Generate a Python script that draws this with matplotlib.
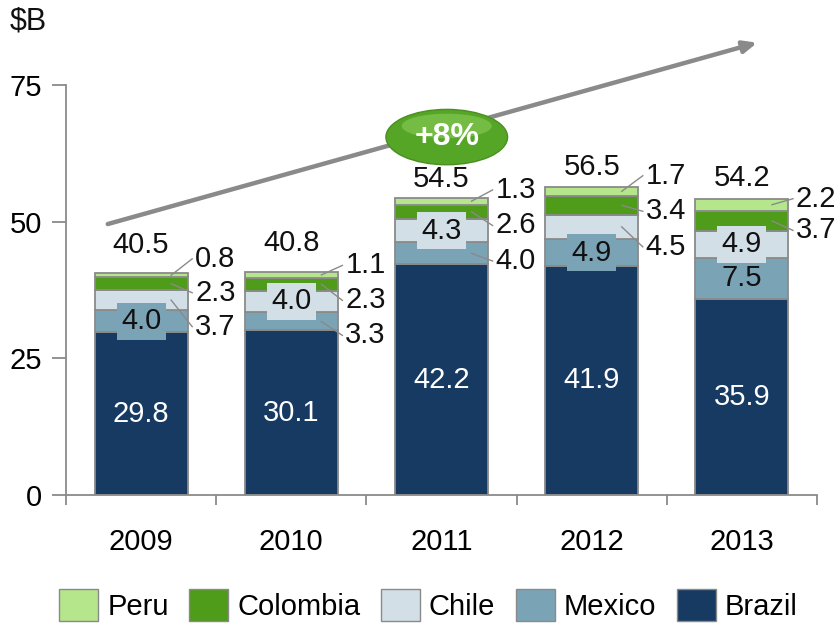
import numpy as np
import matplotlib
matplotlib.use("Agg")
import matplotlib.pyplot as plt
from matplotlib.patches import Ellipse, Patch

plt.rcParams['font.family'] = ['Liberation Sans', 'DejaVu Sans']

# data
years = ['2009', '2010', '2011', '2012', '2013']
countries = ['Brazil', 'Mexico', 'Chile', 'Colombia', 'Peru']
brazil = [29.8, 30.1, 42.2, 41.9, 35.9]
mexico = [4.0, 3.3, 4.0, 4.9, 7.5]
chile = [3.7, 4.0, 4.3, 4.5, 4.9]
colombia = [2.3, 2.3, 2.6, 3.4, 3.7]
peru = [0.8, 1.1, 1.3, 1.7, 2.2]
totals = [40.5, 40.8, 54.5, 56.5, 54.2]
growth = '+8%'

series = [brazil, mexico, chile, colombia, peru]
colors = ['#173a63', '#7aa3b5', '#d3dfe7', '#4f9b1a', '#b6e68c']
text_colors = ['white', '#111111', '#111111', '#111111', '#111111']

# layout of the labels
inside = [{0, 1}, {0, 2}, {0, 2}, {0, 1}, {0, 1, 2}]   # labelled inside the bar
right_top = [2.6, 1.2, 1.4, 2.0, 0.0]   # first right label, above bar top
right_step = [6.2, 6.4, 6.5, 6.5, 5.8]
total_gap = [3.6, 3.8, 2.0, 2.2, 2.4]

FS = 21

fig = plt.figure(figsize=(8.4, 6.25), dpi=100)
ax = fig.add_axes([66/840, 1-495/625, 751/840, 410/625])

x = np.arange(len(years))
w = 0.62
bottoms = np.zeros(len(years))
for i, vals in enumerate(series):
    ax.bar(x, vals, w, bottom=bottoms, color=colors[i], edgecolor='#8a8a8a',
           linewidth=1.3, zorder=2)
    bottoms += np.array(vals)

for j in range(len(years)):
    base = 0.0
    mids = []
    for i, vals in enumerate(series):
        mids.append(base + vals[j] / 2)
        base += vals[j]
    top = base
    # inside labels
    for i in inside[j]:
        ax.text(x[j], mids[i], f'{series[i][j]:.1f}', ha='center', va='center',
                fontsize=FS, color=text_colors[i], zorder=4,
                bbox=dict(boxstyle='square,pad=0.15', fc=colors[i], ec='none')
                if i > 0 else None)
    # right-hand labels, top down
    outs = [i for i in range(len(series) - 1, -1, -1) if i not in inside[j]]
    for k, i in enumerate(outs):
        ly = top + right_top[j] - k * right_step[j]
        ax.plot([x[j] + 0.2, x[j] + 0.34], [mids[i], ly], color='#8a8a8a',
                lw=1, zorder=5, clip_on=False)
        ax.text(x[j] + 0.36, ly, f'{series[i][j]:.1f}', ha='left', va='center',
                fontsize=FS, color='#111111', zorder=5)
    # total
    ax.text(x[j], top + total_gap[j], f'{totals[j]:.1f}', ha='center',
            va='baseline', fontsize=FS, color='#111111')

ax.set_xlim(-0.5, len(years) - 0.5)
ax.set_ylim(0, 75)
ax.set_yticks([0, 25, 50, 75])
ax.set_xticks(x)
ax.set_xticklabels(years)
ax.set_xticks(np.arange(len(years) + 1) - 0.5, minor=True)
ax.tick_params(axis='x', which='major', length=0, pad=24, labelsize=FS)
ax.tick_params(axis='x', which='minor', length=7, width=1.3, color='#8a8a8a',
               direction='out')
ax.tick_params(axis='y', length=10, width=1.3, color='#8a8a8a', pad=7,
               labelsize=FS)
for s in ['top', 'right']:
    ax.spines[s].set_visible(False)
for s in ['left', 'bottom']:
    ax.spines[s].set_color('#8a8a8a')
    ax.spines[s].set_linewidth(1.3)

# growth arrow and bubble
ax.annotate('', xy=(0.924, 1.105), xytext=(0.052, 0.659),
            xycoords='axes fraction', textcoords='axes fraction',
            arrowprops=dict(arrowstyle='-|>,head_length=0.8,head_width=0.35',
                            color='#8a8a8a', lw=3.2), zorder=1)
ax.add_patch(Ellipse((0.507, 0.873), 0.162, 0.135, transform=ax.transAxes,
                     fc='#55a526', ec='#4a8f20', lw=1, zorder=6, clip_on=False))
ax.add_patch(Ellipse((0.507, 0.9), 0.12, 0.06, transform=ax.transAxes,
                     fc='#8fcf5c', ec='none', alpha=0.55, zorder=6, clip_on=False))
ax.text(0.507, 0.873, growth, transform=ax.transAxes, ha='center', va='center',
        fontsize=23, color='white', fontweight='bold', zorder=7)

fig.text(10/840, 1 - 22/625, r'\$B', ha='left', va='center', fontsize=22,
         color='#111111')

handles = [Patch(fc=colors[i], ec='#8a8a8a', lw=1) for i in range(4, -1, -1)]
labels = [countries[i] for i in range(4, -1, -1)]
fig.legend(handles, labels, loc='center', bbox_to_anchor=(0.51, 1 - 605/625),
           ncol=5, frameon=False, fontsize=FS, handlelength=1.35,
           handleheight=1.35, handletextpad=0.3, columnspacing=0.7)

fig.savefig('out.png', dpi=100)
